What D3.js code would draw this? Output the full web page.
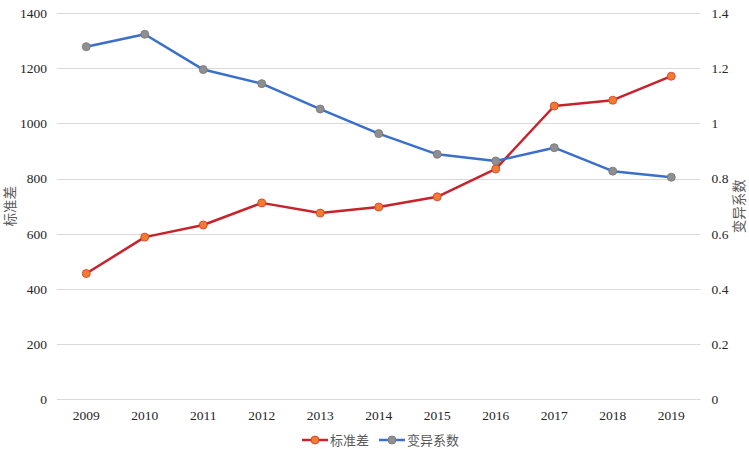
<!DOCTYPE html>
<html>
<head>
<meta charset="utf-8">
<script src="https://cdn.jsdelivr.net/npm/d3@7/dist/d3.min.js"></script>
<style>
  html, body { margin: 0; padding: 0; background: #fff; }
  svg { display: block; }
</style>
</head>
<body>
<svg id="chart" width="749" height="449"></svg>
<script>
const years = ["2009","2010","2011","2012","2013","2014","2015","2016","2017","2018","2019"];
const stdDev = [456, 588, 632, 712, 675, 697, 734, 835, 1063, 1084, 1171];
const cv = [1.278, 1.323, 1.195, 1.144, 1.052, 0.963, 0.888, 0.864, 0.912, 0.827, 0.805];
const leftTicks = [0, 200, 400, 600, 800, 1000, 1200, 1400];
const rightTicks = [0, 0.2, 0.4, 0.6, 0.8, 1, 1.2, 1.4];
const seriesNames = ["标准差", "变异系数"];
const axisTitles = ["标准差", "变异系数"];

const svg = d3.select("#chart");
const W = 749, H = 449;
const plot = { left: 57, right: 700.5, top: 13, bottom: 399.4 };
const numFont = "'Liberation Serif', 'Times New Roman', 'Noto Sans CJK SC', serif";
const cjkFont = "'Noto Sans CJK SC', 'Noto Sans', sans-serif";

const x = d3.scaleBand().domain(years).range([plot.left, plot.right]);
const yL = d3.scaleLinear().domain([0, 1400]).range([plot.bottom, plot.top]);
const yR = d3.scaleLinear().domain([0, 1.4]).range([plot.bottom, plot.top]);
const cx = d => x(d) + x.bandwidth() / 2;

// gridlines
svg.append("g").selectAll("line").data(leftTicks).join("line")
  .attr("x1", plot.left).attr("x2", plot.right)
  .attr("y1", d => Math.round(yL(d)) + 0.5).attr("y2", d => Math.round(yL(d)) + 0.5)
  .attr("stroke", "#d9d9d9").attr("stroke-width", 1);

// left axis
const gL = svg.append("g").attr("transform", `translate(${plot.left},0)`)
  .call(d3.axisLeft(yL).tickValues(leftTicks).tickSize(0).tickPadding(10).tickFormat(d3.format("d")));
gL.select(".domain").remove();
gL.selectAll("text").attr("font-family", numFont).attr("font-size", 13.5).attr("fill", "#262626");

// right axis
const gR = svg.append("g").attr("transform", `translate(${plot.right},0)`)
  .call(d3.axisRight(yR).tickValues(rightTicks).tickSize(0).tickPadding(11).tickFormat(d => String(+d.toFixed(1))));
gR.select(".domain").remove();
gR.selectAll("text").attr("font-family", numFont).attr("font-size", 13.5).attr("fill", "#262626");

// bottom axis
const gB = svg.append("g").attr("transform", `translate(0,${plot.bottom})`)
  .call(d3.axisBottom(x).tickSize(0).tickPadding(11));
gB.select(".domain").remove();
gB.selectAll("text").attr("font-family", numFont).attr("font-size", 13.5).attr("fill", "#262626");

// axis titles
const midY = (plot.top + plot.bottom) / 2;
svg.append("text").attr("transform", `translate(15,${midY}) rotate(-90)`)
  .attr("text-anchor", "middle").attr("font-family", cjkFont).attr("font-size", 13.5)
  .attr("fill", "#595959").text(axisTitles[0]);
svg.append("text").attr("transform", `translate(744,${midY}) rotate(-90)`)
  .attr("text-anchor", "middle").attr("font-family", cjkFont).attr("font-size", 13.5)
  .attr("fill", "#595959").text(axisTitles[1]);

const redLine = "#C8222A", redFill = "#ED7D31", redStroke = "#E0412C";
const blueLine = "#3A6FCB", grayFill = "#8F8F8F", grayStroke = "#7A7A7A";

// series 1 (left axis)
const line1 = d3.line().x((d, i) => cx(years[i])).y(d => yL(d));
svg.append("path").datum(stdDev).attr("d", line1)
  .attr("fill", "none").attr("stroke", redLine).attr("stroke-width", 2.5).attr("stroke-linejoin", "round");
svg.append("g").selectAll("circle").data(stdDev).join("circle")
  .attr("cx", (d, i) => cx(years[i])).attr("cy", d => yL(d)).attr("r", 4)
  .attr("fill", redFill).attr("stroke", redStroke).attr("stroke-width", 0.9);

// series 2 (right axis)
const line2 = d3.line().x((d, i) => cx(years[i])).y(d => yR(d));
svg.append("path").datum(cv).attr("d", line2)
  .attr("fill", "none").attr("stroke", blueLine).attr("stroke-width", 2.5).attr("stroke-linejoin", "round");
svg.append("g").selectAll("circle").data(cv).join("circle")
  .attr("cx", (d, i) => cx(years[i])).attr("cy", d => yR(d)).attr("r", 4)
  .attr("fill", grayFill).attr("stroke", grayStroke).attr("stroke-width", 0.9);

// legend
const legendY = 440;
const legendItems = [
  { name: seriesNames[0], x: 302, line: redLine, fill: redFill, stroke: redStroke },
  { name: seriesNames[1], x: 379, line: blueLine, fill: grayFill, stroke: grayStroke }
];
const lg = svg.append("g");
legendItems.forEach(it => {
  lg.append("line").attr("x1", it.x).attr("x2", it.x + 26).attr("y1", legendY).attr("y2", legendY)
    .attr("stroke", it.line).attr("stroke-width", 2.5);
  lg.append("circle").attr("cx", it.x + 13).attr("cy", legendY).attr("r", 4)
    .attr("fill", it.fill).attr("stroke", it.stroke).attr("stroke-width", 0.9);
  lg.append("text").attr("x", it.x + 28).attr("y", legendY).attr("dy", "0.36em")
    .attr("font-family", cjkFont).attr("font-size", 13).attr("fill", "#595959").text(it.name);
});
</script>
</body>
</html>
